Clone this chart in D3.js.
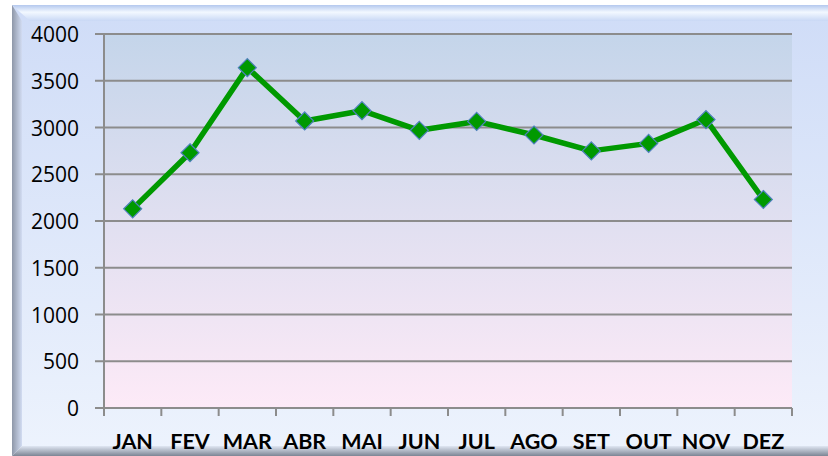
<!DOCTYPE html>
<html>
<head>
<meta charset="utf-8">
<script src="https://d3js.org/d3.v7.min.js"></script>
<style>
  body{margin:0;background:#fff;}
  svg{display:block;}
  text{font-family:Lato,"Open Sans",sans-serif;}
</style>
</head>
<body>
<svg></svg>
<script>
// valores
var meses = ["JAN","FEV","MAR","ABR","MAI","JUN","JUL","AGO","SET","OUT","NOV","DEZ"];
var valores = [2130, 2730, 3640, 3070, 3180, 2970, 3065, 2920, 2750, 2830, 3085, 2230];
var yTicks = [0, 500, 1000, 1500, 2000, 2500, 3000, 3500, 4000];

var W = 828, H = 456;
var svg = d3.select("svg").attr("width", W).attr("height", H);
var defs = svg.append("defs");

// fundo externo
var g1 = defs.append("linearGradient").attr("id","bg").attr("x1",0).attr("y1",0).attr("x2",0).attr("y2",1);
g1.append("stop").attr("offset","0%").attr("stop-color","#cfdcf7");
g1.append("stop").attr("offset","100%").attr("stop-color","#edf3fd");

var g2 = defs.append("linearGradient").attr("id","plot").attr("x1",0).attr("y1",0).attr("x2",0).attr("y2",1);
g2.append("stop").attr("offset","0%").attr("stop-color","#c4d5ea");
g2.append("stop").attr("offset","100%").attr("stop-color","#fdeaf7");

var gTop = defs.append("linearGradient").attr("id","topb").attr("x1",0).attr("y1",0).attr("x2",0).attr("y2",1);
gTop.append("stop").attr("offset","0%").attr("stop-color","#b4c8ee");
gTop.append("stop").attr("offset","45%").attr("stop-color","#f2f8ff");
gTop.append("stop").attr("offset","100%").attr("stop-color","#c9d8f5");

var gLeft = defs.append("linearGradient").attr("id","leftb").attr("x1",0).attr("y1",0).attr("x2",1).attr("y2",0);
gLeft.append("stop").attr("offset","0%").attr("stop-color","#8e97a8");
gLeft.append("stop").attr("offset","100%").attr("stop-color","#d2dcf2");

var gBot = defs.append("linearGradient").attr("id","botb").attr("x1",0).attr("y1",0).attr("x2",0).attr("y2",1);
gBot.append("stop").attr("offset","0%").attr("stop-color","#dfe6f2");
gBot.append("stop").attr("offset","100%").attr("stop-color","#7c8594");

var fx = 12, fy = 5;
svg.append("rect").attr("x",fx).attr("y",fy).attr("width",W-fx).attr("height",H-fy).attr("fill","url(#bg)");
// bisel
svg.append("path").attr("d","M"+fx+","+fy+"H"+W+"V21H30Z").attr("fill","url(#topb)");
svg.append("path").attr("d","M"+fx+","+fy+"L22,21V446L"+fx+","+H+"Z").attr("fill","url(#leftb)");
svg.append("path").attr("d","M"+fx+","+H+"L22,446H"+W+"V"+H+"Z").attr("fill","url(#botb)");

var m = {left:104, right:792, top:34, bottom:408};
var x = d3.scaleBand().domain(meses).range([m.left, m.right]);
var y = d3.scaleLinear().domain([0, 4000]).range([m.bottom, m.top]);

svg.append("rect").attr("x",m.left).attr("y",m.top)
  .attr("width",m.right-m.left).attr("height",m.bottom-m.top).attr("fill","url(#plot)");

// grade
svg.append("g").selectAll("line").data(yTicks).join("line")
  .attr("x1",m.left-9).attr("x2",m.right)
  .attr("y1",d=>y(d)).attr("y2",d=>y(d))
  .attr("stroke","#8c8c8c").attr("stroke-width",2);

svg.append("line").attr("x1",m.left).attr("x2",m.left).attr("y1",m.top).attr("y2",m.bottom+1)
  .attr("stroke","#8c8c8c").attr("stroke-width",2);

// marcas do eixo x
var xt = meses.map(d=>x(d)).concat([m.right]);
svg.append("g").selectAll("line").data(xt).join("line")
  .attr("x1",d=>d).attr("x2",d=>d).attr("y1",m.bottom).attr("y2",m.bottom+8)
  .attr("stroke","#8c8c8c").attr("stroke-width",2);

svg.append("g").selectAll("text").data(yTicks).join("text")
  .attr("x",79).attr("y",d=>y(d)+8).attr("text-anchor","end")
  .style("font-family","'Open Sans',sans-serif")
  .attr("font-size",21).attr("fill","#000").text(d=>d);

svg.append("g").selectAll("text").data(meses).join("text")
  .attr("x",d=>x(d)+x.bandwidth()/2).attr("y",449).attr("text-anchor","middle")
  .attr("font-size",21.5).attr("font-weight","bold").attr("fill","#000").text(d=>d);

// linha
var line = d3.line().x((d,i)=>x(meses[i])+x.bandwidth()/2).y(d=>y(d));
svg.append("path").datum(valores).attr("d",line)
  .attr("fill","none").attr("stroke","#009900").attr("stroke-width",5.5).attr("stroke-linejoin","round");

svg.append("g").selectAll("path").data(valores).join("path")
  .attr("transform",(d,i)=>"translate("+(x(meses[i])+x.bandwidth()/2)+","+y(d)+")")
  .attr("d","M0,-9L9,0L0,9L-9,0Z")
  .attr("fill","#009900").attr("stroke","#4f81bd").attr("stroke-width",1.2);
</script>
</body>
</html>
